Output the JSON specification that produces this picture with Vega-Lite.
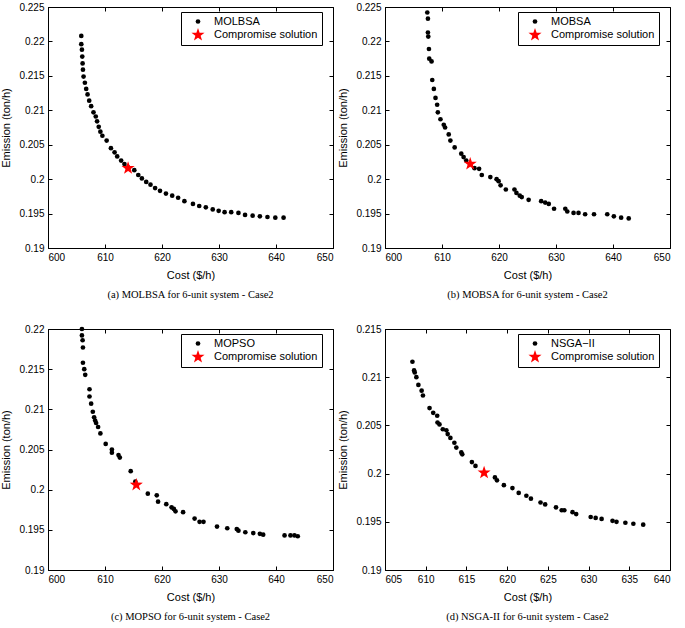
{
"$schema": "https://vega.github.io/schema/vega-lite/v6.json",
"padding": {"left": 0, "top": 1, "right": 0, "bottom": 0},
"background": "white",
"config": {
  "view": {"stroke": "#000000", "strokeWidth": 1},
  "axis": {"grid": false, "labelFont": "Liberation Sans", "labelFontSize": 10, "labelColor": "#000000", "titleFont": "Liberation Sans", "titleFontSize": 11, "titleFontWeight": "normal", "titleColor": "#000000", "domainColor": "#000000", "tickColor": "#000000", "tickSize": -4, "labelPadding": 8, "titlePadding": 7},
  "title": {"orient": "bottom", "font": "Liberation Serif", "fontSize": 10.5, "fontWeight": "normal", "color": "#000000", "offset": 10},
  "legend": {"orient": "none", "legendX": 133, "legendY": 5, "strokeColor": "#000000", "fillColor": "#ffffff", "padding": 4, "labelFont": "Liberation Sans", "labelFontSize": 11, "labelColor": "#000000", "rowPadding": 1, "symbolOffset": 6, "labelOffset": 9, "symbolStrokeWidth": 0},
  "point": {"filled": true, "opacity": 1}
},
"datasets": {
  "a": [
    {"series": "MOLBSA", "cost": 605.84, "emission": 0.2208},
    {"series": "MOLBSA", "cost": 605.84, "emission": 0.2196},
    {"series": "MOLBSA", "cost": 605.95, "emission": 0.2188},
    {"series": "MOLBSA", "cost": 606.01, "emission": 0.2178},
    {"series": "MOLBSA", "cost": 606.07, "emission": 0.2168},
    {"series": "MOLBSA", "cost": 606.13, "emission": 0.2159},
    {"series": "MOLBSA", "cost": 606.24, "emission": 0.2149},
    {"series": "MOLBSA", "cost": 606.47, "emission": 0.2140},
    {"series": "MOLBSA", "cost": 606.70, "emission": 0.2131},
    {"series": "MOLBSA", "cost": 606.94, "emission": 0.2123},
    {"series": "MOLBSA", "cost": 607.23, "emission": 0.2114},
    {"series": "MOLBSA", "cost": 607.57, "emission": 0.2106},
    {"series": "MOLBSA", "cost": 607.98, "emission": 0.2097},
    {"series": "MOLBSA", "cost": 608.38, "emission": 0.2091},
    {"series": "MOLBSA", "cost": 608.61, "emission": 0.2084},
    {"series": "MOLBSA", "cost": 608.90, "emission": 0.2076},
    {"series": "MOLBSA", "cost": 609.19, "emission": 0.2069},
    {"series": "MOLBSA", "cost": 609.54, "emission": 0.2063},
    {"series": "MOLBSA", "cost": 610.29, "emission": 0.2056},
    {"series": "MOLBSA", "cost": 611.04, "emission": 0.2045},
    {"series": "MOLBSA", "cost": 611.68, "emission": 0.2039},
    {"series": "MOLBSA", "cost": 612.14, "emission": 0.2033},
    {"series": "MOLBSA", "cost": 612.83, "emission": 0.2027},
    {"series": "MOLBSA", "cost": 613.41, "emission": 0.2022},
    {"series": "MOLBSA", "cost": 614.05, "emission": 0.2017},
    {"series": "MOLBSA", "cost": 615.14, "emission": 0.2013},
    {"series": "MOLBSA", "cost": 615.84, "emission": 0.2006},
    {"series": "MOLBSA", "cost": 616.47, "emission": 0.2001},
    {"series": "MOLBSA", "cost": 617.23, "emission": 0.1996},
    {"series": "MOLBSA", "cost": 617.98, "emission": 0.1992},
    {"series": "MOLBSA", "cost": 618.79, "emission": 0.1987},
    {"series": "MOLBSA", "cost": 619.65, "emission": 0.1983},
    {"series": "MOLBSA", "cost": 620.69, "emission": 0.1979},
    {"series": "MOLBSA", "cost": 621.79, "emission": 0.1976},
    {"series": "MOLBSA", "cost": 622.83, "emission": 0.1973},
    {"series": "MOLBSA", "cost": 623.93, "emission": 0.1968},
    {"series": "MOLBSA", "cost": 625.43, "emission": 0.1964},
    {"series": "MOLBSA", "cost": 626.53, "emission": 0.1961},
    {"series": "MOLBSA", "cost": 627.69, "emission": 0.1959},
    {"series": "MOLBSA", "cost": 628.90, "emission": 0.1956},
    {"series": "MOLBSA", "cost": 629.94, "emission": 0.1954},
    {"series": "MOLBSA", "cost": 630.98, "emission": 0.1952},
    {"series": "MOLBSA", "cost": 632.14, "emission": 0.1952},
    {"series": "MOLBSA", "cost": 633.41, "emission": 0.1951},
    {"series": "MOLBSA", "cost": 634.57, "emission": 0.1948},
    {"series": "MOLBSA", "cost": 635.90, "emission": 0.1947},
    {"series": "MOLBSA", "cost": 637.17, "emission": 0.1946},
    {"series": "MOLBSA", "cost": 638.50, "emission": 0.1945},
    {"series": "MOLBSA", "cost": 639.88, "emission": 0.1944},
    {"series": "MOLBSA", "cost": 641.33, "emission": 0.1944},
    {"series": "Compromise solution", "cost": 614.05, "emission": 0.2016}
  ],
  "b": [
    {"series": "MOBSA", "cost": 607.42, "emission": 0.2242},
    {"series": "MOBSA", "cost": 607.53, "emission": 0.2233},
    {"series": "MOBSA", "cost": 607.53, "emission": 0.2213},
    {"series": "MOBSA", "cost": 607.59, "emission": 0.2207},
    {"series": "MOBSA", "cost": 607.71, "emission": 0.2189},
    {"series": "MOBSA", "cost": 607.76, "emission": 0.2175},
    {"series": "MOBSA", "cost": 608.17, "emission": 0.2171},
    {"series": "MOBSA", "cost": 608.29, "emission": 0.2144},
    {"series": "MOBSA", "cost": 608.57, "emission": 0.2131},
    {"series": "MOBSA", "cost": 608.86, "emission": 0.2118},
    {"series": "MOBSA", "cost": 609.15, "emission": 0.2108},
    {"series": "MOBSA", "cost": 609.27, "emission": 0.2097},
    {"series": "MOBSA", "cost": 609.73, "emission": 0.2087},
    {"series": "MOBSA", "cost": 610.31, "emission": 0.2079},
    {"series": "MOBSA", "cost": 610.54, "emission": 0.2075},
    {"series": "MOBSA", "cost": 611.18, "emission": 0.2065},
    {"series": "MOBSA", "cost": 611.47, "emission": 0.2056},
    {"series": "MOBSA", "cost": 612.22, "emission": 0.2046},
    {"series": "MOBSA", "cost": 613.38, "emission": 0.2037},
    {"series": "MOBSA", "cost": 613.79, "emission": 0.2032},
    {"series": "MOBSA", "cost": 614.25, "emission": 0.2027},
    {"series": "MOBSA", "cost": 615.70, "emission": 0.2016},
    {"series": "MOBSA", "cost": 616.51, "emission": 0.2015},
    {"series": "MOBSA", "cost": 616.98, "emission": 0.2006},
    {"series": "MOBSA", "cost": 618.48, "emission": 0.2003},
    {"series": "MOBSA", "cost": 619.58, "emission": 0.2000},
    {"series": "MOBSA", "cost": 619.93, "emission": 0.1997},
    {"series": "MOBSA", "cost": 620.28, "emission": 0.1991},
    {"series": "MOBSA", "cost": 621.20, "emission": 0.1985},
    {"series": "MOBSA", "cost": 622.71, "emission": 0.1985},
    {"series": "MOBSA", "cost": 623.06, "emission": 0.1980},
    {"series": "MOBSA", "cost": 623.64, "emission": 0.1976},
    {"series": "MOBSA", "cost": 623.99, "emission": 0.1974},
    {"series": "MOBSA", "cost": 625.20, "emission": 0.1970},
    {"series": "MOBSA", "cost": 627.40, "emission": 0.1968},
    {"series": "MOBSA", "cost": 628.10, "emission": 0.1966},
    {"series": "MOBSA", "cost": 628.73, "emission": 0.1964},
    {"series": "MOBSA", "cost": 629.66, "emission": 0.1957},
    {"series": "MOBSA", "cost": 631.63, "emission": 0.1957},
    {"series": "MOBSA", "cost": 631.98, "emission": 0.1953},
    {"series": "MOBSA", "cost": 633.08, "emission": 0.1951},
    {"series": "MOBSA", "cost": 633.95, "emission": 0.1951},
    {"series": "MOBSA", "cost": 635.11, "emission": 0.1949},
    {"series": "MOBSA", "cost": 636.67, "emission": 0.1949},
    {"series": "MOBSA", "cost": 638.99, "emission": 0.1949},
    {"series": "MOBSA", "cost": 640.15, "emission": 0.1946},
    {"series": "MOBSA", "cost": 641.43, "emission": 0.1944},
    {"series": "MOBSA", "cost": 642.76, "emission": 0.1943},
    {"series": "Compromise solution", "cost": 614.95, "emission": 0.2022}
  ],
  "c": [
    {"series": "MOPSO", "cost": 605.95, "emission": 0.2200},
    {"series": "MOPSO", "cost": 605.95, "emission": 0.2192},
    {"series": "MOPSO", "cost": 606.07, "emission": 0.2186},
    {"series": "MOPSO", "cost": 606.13, "emission": 0.2177},
    {"series": "MOPSO", "cost": 606.13, "emission": 0.2158},
    {"series": "MOPSO", "cost": 606.36, "emission": 0.2150},
    {"series": "MOPSO", "cost": 606.53, "emission": 0.2143},
    {"series": "MOPSO", "cost": 607.28, "emission": 0.2125},
    {"series": "MOPSO", "cost": 607.28, "emission": 0.2116},
    {"series": "MOPSO", "cost": 607.57, "emission": 0.2107},
    {"series": "MOPSO", "cost": 607.86, "emission": 0.2097},
    {"series": "MOPSO", "cost": 608.09, "emission": 0.2090},
    {"series": "MOPSO", "cost": 608.27, "emission": 0.2086},
    {"series": "MOPSO", "cost": 608.44, "emission": 0.2083},
    {"series": "MOPSO", "cost": 608.79, "emission": 0.2078},
    {"series": "MOPSO", "cost": 609.19, "emission": 0.2070},
    {"series": "MOPSO", "cost": 610.12, "emission": 0.2057},
    {"series": "MOPSO", "cost": 611.21, "emission": 0.2050},
    {"series": "MOPSO", "cost": 611.21, "emission": 0.2046},
    {"series": "MOPSO", "cost": 612.37, "emission": 0.2043},
    {"series": "MOPSO", "cost": 612.60, "emission": 0.2040},
    {"series": "MOPSO", "cost": 614.51, "emission": 0.2023},
    {"series": "MOPSO", "cost": 615.32, "emission": 0.2010},
    {"series": "MOPSO", "cost": 617.51, "emission": 0.1995},
    {"series": "MOPSO", "cost": 619.08, "emission": 0.1993},
    {"series": "MOPSO", "cost": 619.31, "emission": 0.1985},
    {"series": "MOPSO", "cost": 620.75, "emission": 0.1982},
    {"series": "MOPSO", "cost": 621.68, "emission": 0.1978},
    {"series": "MOPSO", "cost": 622.08, "emission": 0.1976},
    {"series": "MOPSO", "cost": 622.37, "emission": 0.1973},
    {"series": "MOPSO", "cost": 623.70, "emission": 0.1972},
    {"series": "MOPSO", "cost": 625.72, "emission": 0.1964},
    {"series": "MOPSO", "cost": 626.59, "emission": 0.1960},
    {"series": "MOPSO", "cost": 627.28, "emission": 0.1960},
    {"series": "MOPSO", "cost": 629.65, "emission": 0.1954},
    {"series": "MOPSO", "cost": 631.45, "emission": 0.1952},
    {"series": "MOPSO", "cost": 633.12, "emission": 0.1951},
    {"series": "MOPSO", "cost": 633.41, "emission": 0.1949},
    {"series": "MOPSO", "cost": 634.62, "emission": 0.1947},
    {"series": "MOPSO", "cost": 636.01, "emission": 0.1946},
    {"series": "MOPSO", "cost": 637.17, "emission": 0.1945},
    {"series": "MOPSO", "cost": 637.75, "emission": 0.1944},
    {"series": "MOPSO", "cost": 641.50, "emission": 0.1943},
    {"series": "MOPSO", "cost": 642.54, "emission": 0.1943},
    {"series": "MOPSO", "cost": 643.24, "emission": 0.1943},
    {"series": "MOPSO", "cost": 643.82, "emission": 0.1942},
    {"series": "Compromise solution", "cost": 615.49, "emission": 0.2006}
  ],
  "d": [
    {"series": "NSGA−II", "cost": 608.37, "emission": 0.2116},
    {"series": "NSGA−II", "cost": 608.57, "emission": 0.2107},
    {"series": "NSGA−II", "cost": 608.65, "emission": 0.2105},
    {"series": "NSGA−II", "cost": 608.85, "emission": 0.2100},
    {"series": "NSGA−II", "cost": 609.10, "emission": 0.2092},
    {"series": "NSGA−II", "cost": 609.50, "emission": 0.2086},
    {"series": "NSGA−II", "cost": 609.66, "emission": 0.2081},
    {"series": "NSGA−II", "cost": 610.47, "emission": 0.2068},
    {"series": "NSGA−II", "cost": 610.92, "emission": 0.2063},
    {"series": "NSGA−II", "cost": 611.41, "emission": 0.2060},
    {"series": "NSGA−II", "cost": 611.45, "emission": 0.2053},
    {"series": "NSGA−II", "cost": 611.69, "emission": 0.2051},
    {"series": "NSGA−II", "cost": 612.10, "emission": 0.2046},
    {"series": "NSGA−II", "cost": 612.54, "emission": 0.2045},
    {"series": "NSGA−II", "cost": 612.70, "emission": 0.2041},
    {"series": "NSGA−II", "cost": 613.03, "emission": 0.2037},
    {"series": "NSGA−II", "cost": 613.52, "emission": 0.2032},
    {"series": "NSGA−II", "cost": 613.76, "emission": 0.2027},
    {"series": "NSGA−II", "cost": 614.37, "emission": 0.2022},
    {"series": "NSGA−II", "cost": 614.49, "emission": 0.2020},
    {"series": "NSGA−II", "cost": 615.67, "emission": 0.2012},
    {"series": "NSGA−II", "cost": 616.11, "emission": 0.2008},
    {"series": "NSGA−II", "cost": 618.50, "emission": 0.1996},
    {"series": "NSGA−II", "cost": 618.75, "emission": 0.1993},
    {"series": "NSGA−II", "cost": 619.60, "emission": 0.1988},
    {"series": "NSGA−II", "cost": 620.65, "emission": 0.1985},
    {"series": "NSGA−II", "cost": 621.42, "emission": 0.1980},
    {"series": "NSGA−II", "cost": 622.36, "emission": 0.1977},
    {"series": "NSGA−II", "cost": 622.92, "emission": 0.1974},
    {"series": "NSGA−II", "cost": 624.10, "emission": 0.1970},
    {"series": "NSGA−II", "cost": 624.67, "emission": 0.1968},
    {"series": "NSGA−II", "cost": 626.00, "emission": 0.1965},
    {"series": "NSGA−II", "cost": 626.70, "emission": 0.1962},
    {"series": "NSGA−II", "cost": 627.02, "emission": 0.1962},
    {"series": "NSGA−II", "cost": 628.03, "emission": 0.1960},
    {"series": "NSGA−II", "cost": 628.48, "emission": 0.1958},
    {"series": "NSGA−II", "cost": 630.26, "emission": 0.1955},
    {"series": "NSGA−II", "cost": 630.87, "emission": 0.1954},
    {"series": "NSGA−II", "cost": 631.60, "emission": 0.1953},
    {"series": "NSGA−II", "cost": 632.94, "emission": 0.1951},
    {"series": "NSGA−II", "cost": 633.43, "emission": 0.1950},
    {"series": "NSGA−II", "cost": 634.52, "emission": 0.1949},
    {"series": "NSGA−II", "cost": 635.50, "emission": 0.1948},
    {"series": "NSGA−II", "cost": 636.71, "emission": 0.1947},
    {"series": "Compromise solution", "cost": 617.17, "emission": 0.2001}
  ]
},
"vconcat": [
  {"hconcat": [
    {"width": 285, "height": 241, "data": {"name": "a"},
     "title": "(a) MOLBSA for 6-unit system - Case2",
     "layer": [
      {"mark": {"type": "point", "filled": true, "opacity": 1},
       "encoding": {
       "x": {"field": "cost", "type": "quantitative", "scale": {"domain": [600, 650], "nice": false, "zero": false}, "axis": {"title": "Cost ($/h)", "values": [600, 610, 620, 630, 640, 650], "format": "d"}},
       "y": {"field": "emission", "type": "quantitative", "scale": {"domain": [0.19, 0.225], "nice": false, "zero": false}, "axis": {"title": "Emission (ton/h)", "values": [0.19, 0.195, 0.2, 0.205, 0.21, 0.215, 0.22, 0.225], "format": ".3~f"}},
       "shape": {"field": "series", "type": "nominal", "scale": {"domain": ["MOLBSA", "Compromise solution"], "range": ["circle", "M0,-1L0.235,-0.324L0.951,-0.309L0.38,0.124L0.588,0.809L0,0.4L-0.588,0.809L-0.38,0.124L-0.951,-0.309L-0.235,-0.324Z"]}, "legend": {"title": null}},
       "color": {"field": "series", "type": "nominal", "scale": {"domain": ["MOLBSA", "Compromise solution"], "range": ["#000000", "#ff0000"]}, "legend": {"title": null}},
       "size": {"field": "series", "type": "nominal", "scale": {"domain": ["MOLBSA", "Compromise solution"], "range": [22, 190]}, "legend": {"title": null}}
       }},
      {"mark": {"type": "point", "filled": true, "opacity": 0, "size": 1},
       "encoding": {
       "x": {"field": "cost", "type": "quantitative", "scale": {"domain": [600, 650], "nice": false, "zero": false}, "axis": {"orient": "top", "title": null, "labels": false, "domain": false, "values": [600, 610, 620, 630, 640, 650]}},
       "y": {"field": "emission", "type": "quantitative", "scale": {"domain": [0.19, 0.225], "nice": false, "zero": false}, "axis": {"orient": "right", "title": null, "labels": false, "domain": false, "values": [0.19, 0.195, 0.2, 0.205, 0.21, 0.215, 0.22, 0.225]}}
       }}
     ],
     "resolve": {"axis": {"x": "independent", "y": "independent"}}},
    {"width": 285, "height": 241, "data": {"name": "b"},
     "title": "(b) MOBSA for 6-unit system - Case2",
     "layer": [
      {"mark": {"type": "point", "filled": true, "opacity": 1},
       "encoding": {
       "x": {"field": "cost", "type": "quantitative", "scale": {"domain": [600, 650], "nice": false, "zero": false}, "axis": {"title": "Cost ($/h)", "values": [600, 610, 620, 630, 640, 650], "format": "d"}},
       "y": {"field": "emission", "type": "quantitative", "scale": {"domain": [0.19, 0.225], "nice": false, "zero": false}, "axis": {"title": "Emission (ton/h)", "values": [0.19, 0.195, 0.2, 0.205, 0.21, 0.215, 0.22, 0.225], "format": ".3~f"}},
       "shape": {"field": "series", "type": "nominal", "scale": {"domain": ["MOBSA", "Compromise solution"], "range": ["circle", "M0,-1L0.235,-0.324L0.951,-0.309L0.38,0.124L0.588,0.809L0,0.4L-0.588,0.809L-0.38,0.124L-0.951,-0.309L-0.235,-0.324Z"]}, "legend": {"title": null}},
       "color": {"field": "series", "type": "nominal", "scale": {"domain": ["MOBSA", "Compromise solution"], "range": ["#000000", "#ff0000"]}, "legend": {"title": null}},
       "size": {"field": "series", "type": "nominal", "scale": {"domain": ["MOBSA", "Compromise solution"], "range": [22, 190]}, "legend": {"title": null}}
       }},
      {"mark": {"type": "point", "filled": true, "opacity": 0, "size": 1},
       "encoding": {
       "x": {"field": "cost", "type": "quantitative", "scale": {"domain": [600, 650], "nice": false, "zero": false}, "axis": {"orient": "top", "title": null, "labels": false, "domain": false, "values": [600, 610, 620, 630, 640, 650]}},
       "y": {"field": "emission", "type": "quantitative", "scale": {"domain": [0.19, 0.225], "nice": false, "zero": false}, "axis": {"orient": "right", "title": null, "labels": false, "domain": false, "values": [0.19, 0.195, 0.2, 0.205, 0.21, 0.215, 0.22, 0.225]}}
       }}
     ],
     "resolve": {"axis": {"x": "independent", "y": "independent"}}}
  ], "spacing": 3,
  "resolve": {"scale": {"color": "independent", "shape": "independent", "size": "independent"}, "legend": {"color": "independent", "shape": "independent", "size": "independent"}}},
  {"hconcat": [
    {"width": 285, "height": 241, "data": {"name": "c"},
     "title": "(c) MOPSO for 6-unit system - Case2",
     "layer": [
      {"mark": {"type": "point", "filled": true, "opacity": 1},
       "encoding": {
       "x": {"field": "cost", "type": "quantitative", "scale": {"domain": [600, 650], "nice": false, "zero": false}, "axis": {"title": "Cost ($/h)", "values": [600, 610, 620, 630, 640, 650], "format": "d"}},
       "y": {"field": "emission", "type": "quantitative", "scale": {"domain": [0.19, 0.22], "nice": false, "zero": false}, "axis": {"title": "Emission (ton/h)", "values": [0.19, 0.195, 0.2, 0.205, 0.21, 0.215, 0.22], "format": ".3~f"}},
       "shape": {"field": "series", "type": "nominal", "scale": {"domain": ["MOPSO", "Compromise solution"], "range": ["circle", "M0,-1L0.235,-0.324L0.951,-0.309L0.38,0.124L0.588,0.809L0,0.4L-0.588,0.809L-0.38,0.124L-0.951,-0.309L-0.235,-0.324Z"]}, "legend": {"title": null}},
       "color": {"field": "series", "type": "nominal", "scale": {"domain": ["MOPSO", "Compromise solution"], "range": ["#000000", "#ff0000"]}, "legend": {"title": null}},
       "size": {"field": "series", "type": "nominal", "scale": {"domain": ["MOPSO", "Compromise solution"], "range": [22, 190]}, "legend": {"title": null}}
       }},
      {"mark": {"type": "point", "filled": true, "opacity": 0, "size": 1},
       "encoding": {
       "x": {"field": "cost", "type": "quantitative", "scale": {"domain": [600, 650], "nice": false, "zero": false}, "axis": {"orient": "top", "title": null, "labels": false, "domain": false, "values": [600, 610, 620, 630, 640, 650]}},
       "y": {"field": "emission", "type": "quantitative", "scale": {"domain": [0.19, 0.22], "nice": false, "zero": false}, "axis": {"orient": "right", "title": null, "labels": false, "domain": false, "values": [0.19, 0.195, 0.2, 0.205, 0.21, 0.215, 0.22]}}
       }}
     ],
     "resolve": {"axis": {"x": "independent", "y": "independent"}}},
    {"width": 285, "height": 241, "data": {"name": "d"},
     "title": "(d) NSGA-II for 6-unit system - Case2",
     "layer": [
      {"mark": {"type": "point", "filled": true, "opacity": 1},
       "encoding": {
       "x": {"field": "cost", "type": "quantitative", "scale": {"domain": [605, 640], "nice": false, "zero": false}, "axis": {"title": "Cost ($/h)", "values": [605, 610, 615, 620, 625, 630, 635, 640], "format": "d"}},
       "y": {"field": "emission", "type": "quantitative", "scale": {"domain": [0.19, 0.215], "nice": false, "zero": false}, "axis": {"title": "Emission (ton/h)", "values": [0.19, 0.195, 0.2, 0.205, 0.21, 0.215], "format": ".3~f"}},
       "shape": {"field": "series", "type": "nominal", "scale": {"domain": ["NSGA−II", "Compromise solution"], "range": ["circle", "M0,-1L0.235,-0.324L0.951,-0.309L0.38,0.124L0.588,0.809L0,0.4L-0.588,0.809L-0.38,0.124L-0.951,-0.309L-0.235,-0.324Z"]}, "legend": {"title": null}},
       "color": {"field": "series", "type": "nominal", "scale": {"domain": ["NSGA−II", "Compromise solution"], "range": ["#000000", "#ff0000"]}, "legend": {"title": null}},
       "size": {"field": "series", "type": "nominal", "scale": {"domain": ["NSGA−II", "Compromise solution"], "range": [22, 190]}, "legend": {"title": null}}
       }},
      {"mark": {"type": "point", "filled": true, "opacity": 0, "size": 1},
       "encoding": {
       "x": {"field": "cost", "type": "quantitative", "scale": {"domain": [605, 640], "nice": false, "zero": false}, "axis": {"orient": "top", "title": null, "labels": false, "domain": false, "values": [605, 610, 615, 620, 625, 630, 635, 640]}},
       "y": {"field": "emission", "type": "quantitative", "scale": {"domain": [0.19, 0.215], "nice": false, "zero": false}, "axis": {"orient": "right", "title": null, "labels": false, "domain": false, "values": [0.19, 0.195, 0.2, 0.205, 0.21, 0.215]}}
       }}
     ],
     "resolve": {"axis": {"x": "independent", "y": "independent"}}}
  ], "spacing": 3,
  "resolve": {"scale": {"color": "independent", "shape": "independent", "size": "independent"}, "legend": {"color": "independent", "shape": "independent", "size": "independent"}}}
],
"spacing": 22,
"resolve": {"scale": {"color": "independent", "shape": "independent", "size": "independent"}, "legend": {"color": "independent", "shape": "independent", "size": "independent"}}
}
